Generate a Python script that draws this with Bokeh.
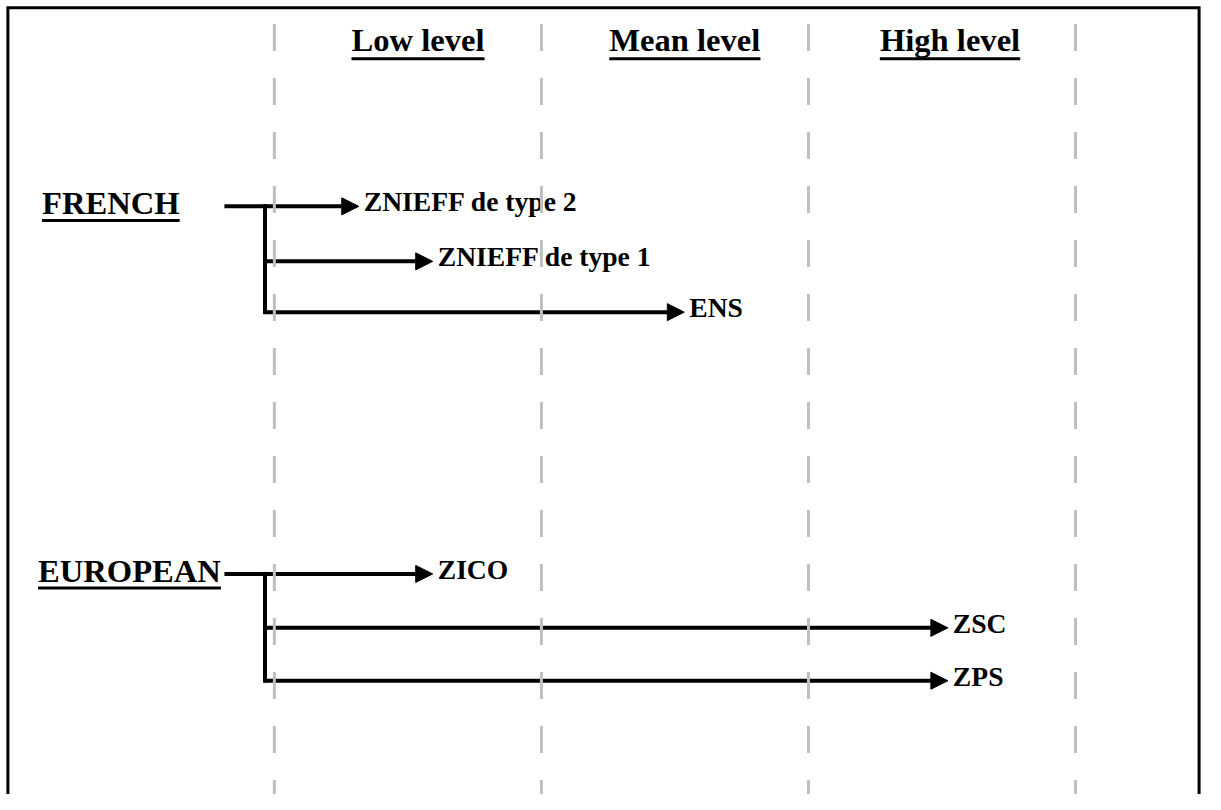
from bokeh.plotting import figure
from bokeh.models import ColumnDataSource, Arrow, NormalHead, Range1d
from bokeh.core.properties import value
from bokeh.embed import file_html
from bokeh.resources import INLINE

# ---------------- data ----------------
levels = ["Low level", "Mean level", "High level"]
level_bounds = [0, 1, 2, 3]
level_label_x = [0.538, 1.537, 2.530]

groups = ["FRENCH", "EUROPEAN"]
french_targets = ["ZNIEFF de type 2", "ZNIEFF de type 1", "ENS"]
french_reach = [0.316, 0.593, 1.535]
european_targets = ["ZICO", "ZSC", "ZPS"]
european_reach = [0.593, 2.522, 2.522]

# ---------------- layout ----------------
W, H = 1205, 794
X0, X1 = -1.0255, 3.4867
Y_TOP, Y_BOT = -3.853, 11.009
PX_X = W / (X1 - X0)          # pixels per level unit
PX_Y = H / (Y_BOT - Y_TOP)    # pixels per row unit
SCALE = W / 1221.0

group_rows = [[0.0, 1.03, 1.98], [6.88, 7.89, 8.88]]
group_label_x = [-0.870, -0.885]
source_x = -0.187
trunk_x = -0.035
header_base = -2.899
dash_top = -3.413
frame_left, frame_right, frame_top = -0.9978, 3.4627, -3.7156

HSIZE, LSIZE = round(33 * SCALE, 1), round(28 * SCALE, 1)
H_SHIFT = 0.35 * HSIZE / PX_Y   # baseline compensation
L_SHIFT = 0.35 * LSIZE / PX_Y

FONT = value("Liberation Serif")
# Times / Liberation Serif Bold advance widths (1/1000 em)
ADV = {' ': 250, 'L': 667, 'o': 500, 'w': 722, 'l': 278, 'e': 444, 'v': 500,
       'M': 944, 'a': 500, 'n': 556, 'H': 778, 'i': 278, 'g': 500, 'h': 556,
       'F': 611, 'R': 722, 'E': 667, 'N': 722, 'C': 722, 'U': 722, 'O': 778,
       'P': 611, 'A': 722}


def text_width_units(s, size):
    return sum(ADV.get(c, 500) for c in s) / 1000.0 * size / PX_X


p = figure(width=W, height=H, x_range=Range1d(X0, X1), y_range=Range1d(Y_BOT, Y_TOP),
           x_axis_location=None, y_axis_location=None, toolbar_location=None,
           output_backend="svg", min_border=0)
p.grid.visible = False
p.outline_line_color = None
p.background_fill_color = "white"
p.border_fill_color = "white"

# frame (left, top, right; open at the bottom)
p.line(x=[frame_left, frame_left, frame_right, frame_right],
       y=[Y_BOT + 1, frame_top, frame_top, Y_BOT + 1],
       line_color="black", line_width=3, line_join="miter")

# headers
p.text(x=level_label_x, y=[header_base - H_SHIFT] * 3, text=levels, text_font=FONT,
       text_font_style="bold", text_font_size=f"{HSIZE}px", text_align="center",
       text_baseline="alphabetic", text_color="black")
hx0 = [c - text_width_units(t, HSIZE) / 2 for c, t in zip(level_label_x, levels)]
hx1 = [c + text_width_units(t, HSIZE) / 2 for c, t in zip(level_label_x, levels)]
p.segment(x0=hx0, x1=hx1, y0=[header_base + 0.138] * 3, y1=[header_base + 0.138] * 3,
          line_color="black", line_width=3)

# group labels
gbase = [rows[0] + 0.155 for rows in group_rows]
p.text(x=group_label_x, y=[b - H_SHIFT for b in gbase], text=groups, text_font=FONT,
       text_font_style="bold", text_font_size=f"{HSIZE}px", text_align="left",
       text_baseline="alphabetic", text_color="black")
gx1 = [x + text_width_units(t, HSIZE) for x, t in zip(group_label_x, groups)]
p.segment(x0=group_label_x, x1=gx1, y0=[b + 0.11 for b in gbase], y1=[b + 0.11 for b in gbase],
          line_color="black", line_width=3)

# arrows
xs, ys, xe, ye, lab, lx, ly = [], [], [], [], [], [], []
tx0, ty0, tx1, ty1 = [], [], [], []
for rows, targets, reach in [(group_rows[0], french_targets, french_reach),
                             (group_rows[1], european_targets, european_reach)]:
    for i, (r, t, v) in enumerate(zip(rows, targets, reach)):
        xs.append(source_x if i == 0 else trunk_x)
        ys.append(r)
        xe.append(v)
        ye.append(r)
        lab.append(t)
        lx.append(v)
        ly.append(r + 0.092 - L_SHIFT)
    tx0.append(trunk_x); tx1.append(trunk_x); ty0.append(rows[0]); ty1.append(rows[-1])

p.segment(x0=tx0, x1=tx1, y0=ty0, y1=ty1, line_color="black", line_width=4,
          line_cap="square")
asrc = ColumnDataSource(dict(xs=xs, ys=ys, xe=xe, ye=ye))
p.add_layout(Arrow(end=NormalHead(size=17, fill_color="black", line_color="black", line_width=1),
                   x_start="xs", y_start="ys", x_end="xe", y_end="ye", source=asrc,
                   line_color="black", line_width=4))
p.text(x=lx, y=ly, text=lab, x_offset=5, text_font=FONT, text_font_style="bold",
       text_font_size=f"{LSIZE}px", text_align="left", text_baseline="alphabetic",
       text_color="black")

# dashed level boundaries (drawn on top)
p.segment(x0=level_bounds, x1=level_bounds, y0=[dash_top] * 4, y1=[Y_BOT] * 4,
          line_color="#bfbfbf", line_width=3, line_dash="27 27", level="overlay")

open("out.html", "w").write(file_html(p, INLINE))
